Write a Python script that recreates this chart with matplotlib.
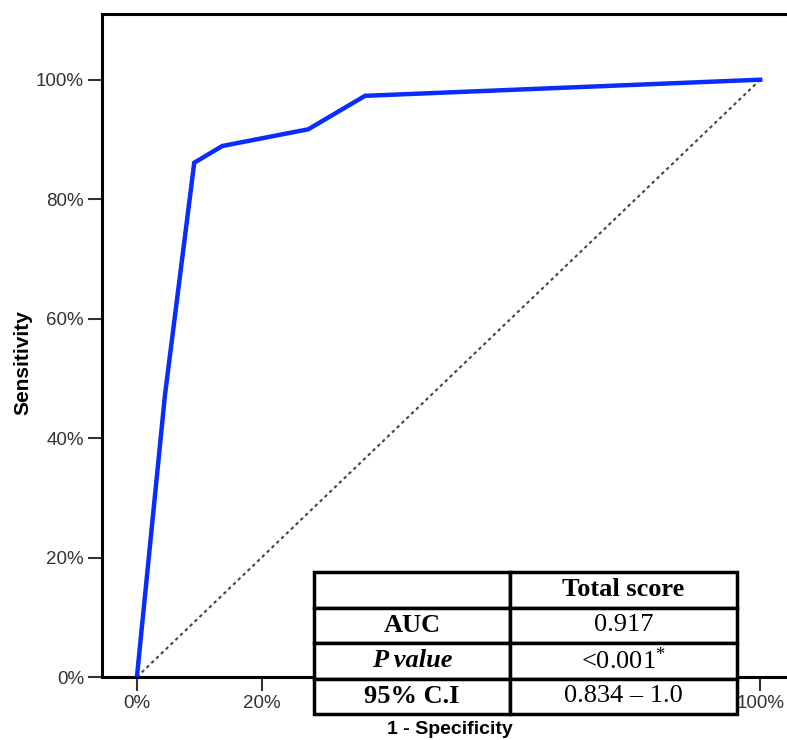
import matplotlib
matplotlib.use("Agg")
import matplotlib.pyplot as plt
from matplotlib.ticker import FixedLocator

# ROC curve data (1 - specificity, sensitivity)
fpr = [0.0, 0.045, 0.092, 0.137, 0.275, 0.366, 1.0]
tpr = [0.0, 0.472, 0.861, 0.889, 0.917, 0.973, 1.0]
ref_line = [0.0, 1.0]
ticks = [0.0, 0.2, 0.4, 0.6, 0.8, 1.0]
tick_labels = ["0%", "20%", "40%", "60%", "80%", "100%"]

table_header = ["", "Total score"]
row_labels = ["AUC", "P value", "95% C.I"]
row_values = ["0.917", r"<0.001$^{*}$", "0.834 \u2013 1.0"]

plt.rcParams['mathtext.fontset'] = 'custom'
plt.rcParams['mathtext.rm'] = 'Liberation Serif'
plt.rcParams['mathtext.it'] = 'Liberation Serif:italic'
plt.rcParams['mathtext.bf'] = 'Liberation Serif:bold'

W, H = 787, 740
fig = plt.figure(figsize=(W / 100, H / 100), dpi=100)
left_px, right_px, top_px, bot_px = 102, 797, 14, 677
ax = fig.add_axes([left_px / W, (H - bot_px) / H,
                   (right_px - left_px) / W, (bot_px - top_px) / H])

ax.plot(ref_line, ref_line, color="#444444", lw=1.5, linestyle=(0, (1.6, 1.6)), zorder=2)
ax.plot(fpr, tpr, color="#0a2dff", lw=3.2, solid_joinstyle="miter", zorder=3)

ax.set_xlim(-0.056, 1.059)
ax.set_ylim(0, 1.11)
ax.xaxis.set_major_locator(FixedLocator(ticks))
ax.yaxis.set_major_locator(FixedLocator(ticks))
ax.set_xticklabels(tick_labels, family="Liberation Sans", fontsize=13.5, color="#333333")
ax.set_yticklabels(tick_labels, family="Liberation Sans", fontsize=13.5, color="#333333")
ax.tick_params(direction="out", length=10, width=1.5, color="#333333", pad=3)
for s in ax.spines.values():
    s.set_linewidth(2.2)
    s.set_color("black")

fig.text(23 / W, 1 - 363 / H, "Sensitivity", rotation=90, ha="center", va="center",
         family="Liberation Sans", fontweight="bold", fontsize=15)
fig.text(450 / W, 2 / H, "1 - Specificity", ha="center", va="bottom",
         family="Liberation Sans", fontweight="bold", fontsize=14)

# table
t_left, t_right, t_top, t_bot = 314, 737, 572, 714
ah = bot_px - top_px
aw = right_px - left_px
bbox = [(t_left - left_px) / aw, (bot_px - t_bot) / ah,
        (t_right - t_left) / aw, (t_bot - t_top) / ah]
cell_text = [table_header] + [[l, v] for l, v in zip(row_labels, row_values)]
tab = ax.table(cellText=cell_text, cellLoc="center", bbox=bbox,
               colWidths=[(510 - t_left) / (t_right - t_left), (t_right - 510) / (t_right - t_left)])
tab.auto_set_font_size(False)
tab.set_zorder(10)
for (r, c), cell in tab.get_celld().items():
    cell.set_linewidth(2.5)
    cell.set_edgecolor("black")
    cell.set_facecolor("white")
    cell.set_clip_on(False)
    txt = cell.get_text()
    txt.set_fontfamily("Liberation Serif")
    txt.set_fontsize(19)
    txt.set_color("black")
    if c == 0 or r == 0:
        txt.set_fontweight("bold")
    if r == 2 and c == 0:
        txt.set_fontstyle("italic")

fig.savefig("out.png", dpi=100)
